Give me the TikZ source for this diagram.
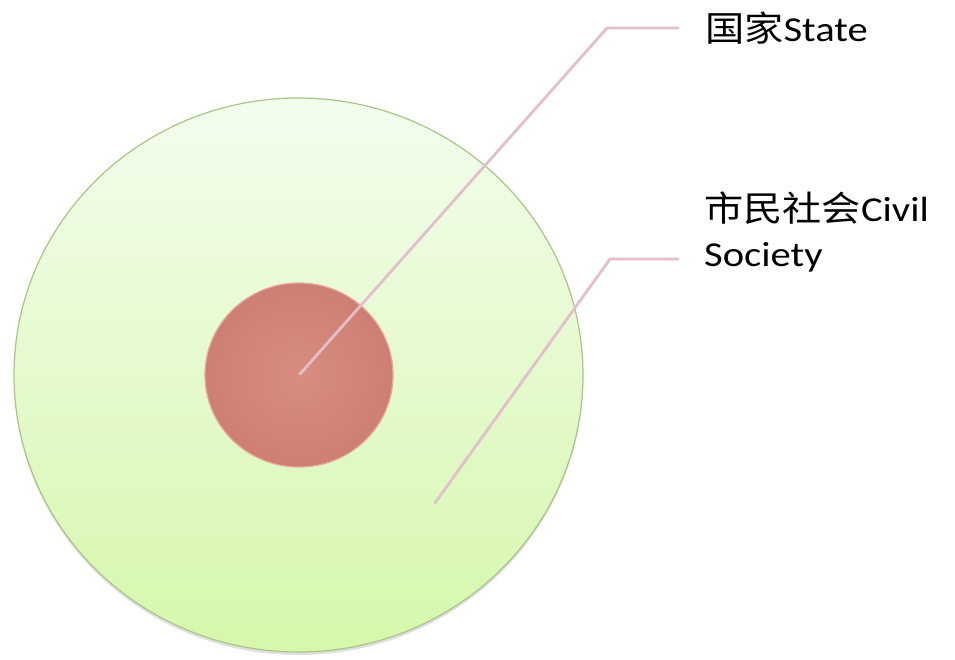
\documentclass[tikz,border=0pt]{standalone}
\usepackage{fontspec}
\setmainfont{Carlito}[FakeStretch=1.16]
\newfontfamily\cjk{Noto Sans CJK SC}[FakeStretch=1.12]
\usetikzlibrary{shapes.geometric,shadows}
\definecolor{leader}{HTML}{E3BFCB}
\definecolor{outerTop}{HTML}{F3FDEE}
\definecolor{outerBot}{HTML}{D6F7AC}
\definecolor{outerRim}{HTML}{A9C586}
\definecolor{innerFill}{HTML}{D98C80}
\definecolor{innerEdge}{HTML}{CC7F72}
\definecolor{innerRim}{HTML}{E9A79C}
\tikzset{
  outerdisc/.style={ellipse, draw=outerRim, line width=1.2pt, top color=outerTop, bottom color=outerBot,
    minimum width=569pt, minimum height=554pt, inner sep=0pt,
    drop shadow={opacity=0.25, shadow xshift=0pt, shadow yshift=-3pt}},
  innerdisc/.style={ellipse, draw=innerRim, line width=1.2pt, inner color=innerFill, outer color=innerEdge,
    minimum width=188pt, minimum height=184pt, inner sep=0pt},
  leaderline/.style={draw=leader, line width=2.8pt, line cap=round, line join=round},
  lbl/.style={inner sep=0pt, font=\fontsize{35}{45}\selectfont, text=black, align=left}
}
\begin{document}
\begin{tikzpicture}[x=1pt,y=-1pt]
\useasboundingbox (0,0) rectangle (955,659);
\node[outerdisc] (civil) at (298.5,375) {};
\node[innerdisc] (state) at (299,375) {};
\coordinate (statepin) at (300,374);
\coordinate (civilpin) at (435,503);
\coordinate (statebend) at (607,28);
\coordinate (civilbend) at (610,259);
\coordinate (stateend) at (678,28);
\coordinate (civilend) at (678,259);
\node[lbl, anchor=base west] (statelbl) at (705,41) {{\cjk 国家}State};
\node[lbl, anchor=north west] (civillbl) at (704,192) {{\cjk 市民社会}Civil\\Society};
\draw[leaderline] (statepin) -- (statebend) -- (stateend);
\draw[leaderline] (civilpin) -- (civilbend) -- (civilend);
\end{tikzpicture}
\end{document}
